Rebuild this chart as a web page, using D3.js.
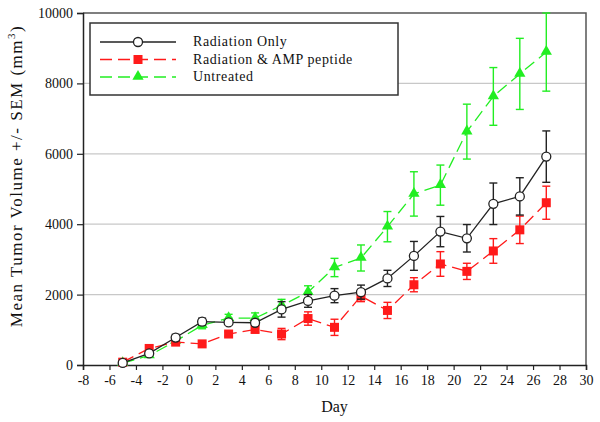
<!DOCTYPE html>
<html>
<head>
<meta charset="utf-8">
<script src="https://cdn.jsdelivr.net/npm/d3@7"></script>
<style>
  body { margin: 0; background: #fff; }
  svg { display: block; font-family: 'Liberation Serif', 'DejaVu Serif', serif; }
</style>
</head>
<body>
<div id="chart"></div>
<script>
  var days = [-5, -3, -1, 1, 3, 5, 7, 9, 11, 13, 15, 17, 19, 21, 23, 25, 27];

  // mean volumes (mm3)
  var radiationOnly = [60, 330, 780, 1230, 1210, 1200, 1580, 1820, 1970, 2070, 2460, 3100, 3790, 3600, 4580, 4790, 5920];
  var radiationAmp  = [80, 470, 650, 600, 880, 1010, 880, 1320, 1070, 1960, 1550, 2280, 2870, 2660, 3240, 3840, 4610];
  var untreated     = [50, 270, 680, 1130, 1330, 1330, 1690, 2070, 2770, 3040, 3930, 4860, 5110, 6630, 7630, 8270, 8890];

  // SEM
  var radiationOnlyErr = [30, 50, 90, 100, 60, 60, 220, 180, 200, 200, 230, 410, 430, 390, 590, 530, 730];
  var radiationAmpErr  = [40, 80, 60, 50, 60, 80, 160, 190, 230, 160, 230, 200, 350, 230, 350, 390, 470];
  var untreatedErr     = [30, 50, 50, 100, 110, 150, 175, 180, 260, 370, 430, 630, 570, 780, 820, 1010, 1110];

  var xTicks = d3.range(-8, 31, 2);
  var yTicks = [0, 2000, 4000, 6000, 8000, 10000];

  var seriesNames = ['Radiation Only', 'Radiation & AMP peptide', 'Untreated'];

  var width = 600, height = 422;
  var margin = {top: 13, right: 14, bottom: 57, left: 83};

  var svg = d3.select('#chart').append('svg')
      .attr('width', width)
      .attr('height', height);

  var x = d3.scaleLinear().domain([-8, 30]).range([margin.left, width - margin.right]);
  var y = d3.scaleLinear().domain([0, 10000]).range([height - margin.bottom, margin.top]);

  // gridlines
  svg.append('g')
    .selectAll('line')
    .data(yTicks.slice(1, -1))
    .join('line')
      .attr('x1', x(-8)).attr('x2', x(30))
      .attr('y1', function(d) { return y(d); })
      .attr('y2', function(d) { return y(d); })
      .attr('stroke', '#c8c8c8')
      .attr('stroke-width', 1.2);

  // frame (top and right)
  svg.append('path')
    .attr('d', 'M' + x(-8) + ',' + y(10000) + 'H' + x(30) + 'V' + y(0))
    .attr('fill', 'none')
    .attr('stroke', '#555')
    .attr('stroke-width', 1.5);

  // axes
  var xAxis = svg.append('g')
    .attr('transform', 'translate(0,' + y(0) + ')')
    .call(d3.axisBottom(x).tickValues(xTicks).tickSize(5).tickPadding(5)
      .tickFormat(function(d) { return String(d); }));
  var yAxis = svg.append('g')
    .attr('transform', 'translate(' + x(-8) + ',0)')
    .call(d3.axisLeft(y).tickValues(yTicks).tickSize(6).tickPadding(4)
      .tickFormat(function(d) { return String(d); }));

  [xAxis, yAxis].forEach(function(ax) {
    ax.select('.domain').attr('stroke', '#222').attr('stroke-width', 1.5);
    ax.selectAll('.tick line').attr('stroke', '#222').attr('stroke-width', 1.2);
    ax.selectAll('.tick text')
      .attr('fill', '#111')
      .style('font-family', "'Liberation Serif', serif")
      .style('font-size', '14px');
  });

  // axis titles
  svg.append('text')
    .attr('x', (x(-8) + x(30)) / 2)
    .attr('y', 412)
    .attr('text-anchor', 'middle')
    .style('font-size', '16px')
    .attr('fill', '#111')
    .text('Day');

  var yTitle = svg.append('text')
    .attr('transform', 'translate(22,' + 176 + ') rotate(-90)')
    .attr('text-anchor', 'middle')
    .style('font-size', '17px')
    .style('letter-spacing', '1.5px')
    .attr('fill', '#111');
  yTitle.append('tspan').text('Mean Tumor Volume +/- SEM  (mm');
  yTitle.append('tspan').attr('dy', -7).style('font-size', '11px').text('3');
  yTitle.append('tspan').attr('dy', 7).text(')');

  var series = [
    {name: seriesNames[0], values: radiationOnly, err: radiationOnlyErr, color: '#222', dash: null, marker: 'circle'},
    {name: seriesNames[1], values: radiationAmp, err: radiationAmpErr, color: '#ff1a1a', dash: '12,6', marker: 'square'},
    {name: seriesNames[2], values: untreated, err: untreatedErr, color: '#22ee22', dash: '12,6', marker: 'triangle'}
  ];

  var line = d3.line()
    .x(function(d) { return x(d.day); })
    .y(function(d) { return y(d.v); });

  function drawMarker(g, s, cx, cy) {
    if (s.marker === 'circle') {
      g.append('circle').attr('cx', cx).attr('cy', cy).attr('r', 4.5)
        .attr('fill', '#fff').attr('stroke', s.color).attr('stroke-width', 1.3);
    } else if (s.marker === 'square') {
      g.append('rect').attr('x', cx - 4.5).attr('y', cy - 4.5).attr('width', 9).attr('height', 9)
        .attr('fill', s.color);
    } else {
      g.append('path')
        .attr('d', d3.symbol(d3.symbolTriangle, 55)())
        .attr('transform', 'translate(' + cx + ',' + (cy - 0.5) + ')')
        .attr('fill', s.color);
    }
  }

  // draw order: untreated underneath, then red, then black
  [series[2], series[1], series[0]].forEach(function(s) {
    var pts = days.map(function(d, i) { return {day: d, v: s.values[i], e: s.err[i]}; });
    var g = svg.append('g');

    g.append('path')
      .datum(pts)
      .attr('d', line)
      .attr('fill', 'none')
      .attr('stroke', s.color)
      .attr('stroke-width', 1.3)
      .attr('stroke-dasharray', s.dash);

    // error bars
    pts.forEach(function(p) {
      var cx = x(p.day);
      var eg = g.append('g').attr('stroke', s.color).attr('stroke-width', 1.4);
      eg.append('line').attr('x1', cx).attr('x2', cx).attr('y1', y(p.v - p.e)).attr('y2', y(p.v + p.e));
      eg.append('line').attr('x1', cx - 4).attr('x2', cx + 4).attr('y1', y(p.v + p.e)).attr('y2', y(p.v + p.e));
      eg.append('line').attr('x1', cx - 4).attr('x2', cx + 4).attr('y1', y(p.v - p.e)).attr('y2', y(p.v - p.e));
    });

    pts.forEach(function(p) { drawMarker(g, s, x(p.day), y(p.v)); });
  });

  // legend
  var legend = svg.append('g');
  legend.append('rect')
    .attr('x', 90).attr('y', 23).attr('width', 308).attr('height', 72)
    .attr('fill', '#fff').attr('stroke', '#333').attr('stroke-width', 1.5);

  series.forEach(function(s, i) {
    var ly = 42 + i * 17.5;
    legend.append('line')
      .attr('x1', 100).attr('x2', 176).attr('y1', ly).attr('y2', ly)
      .attr('stroke', s.color).attr('stroke-width', 1.3)
      .attr('stroke-dasharray', s.dash);
    drawMarker(legend, s, 138, ly);
    legend.append('text')
      .attr('x', 193).attr('y', ly + 4)
      .style('font-size', '14px')
      .style('letter-spacing', '0.6px')
      .attr('fill', '#111')
      .text(s.name);
  });
</script>
</body>
</html>
